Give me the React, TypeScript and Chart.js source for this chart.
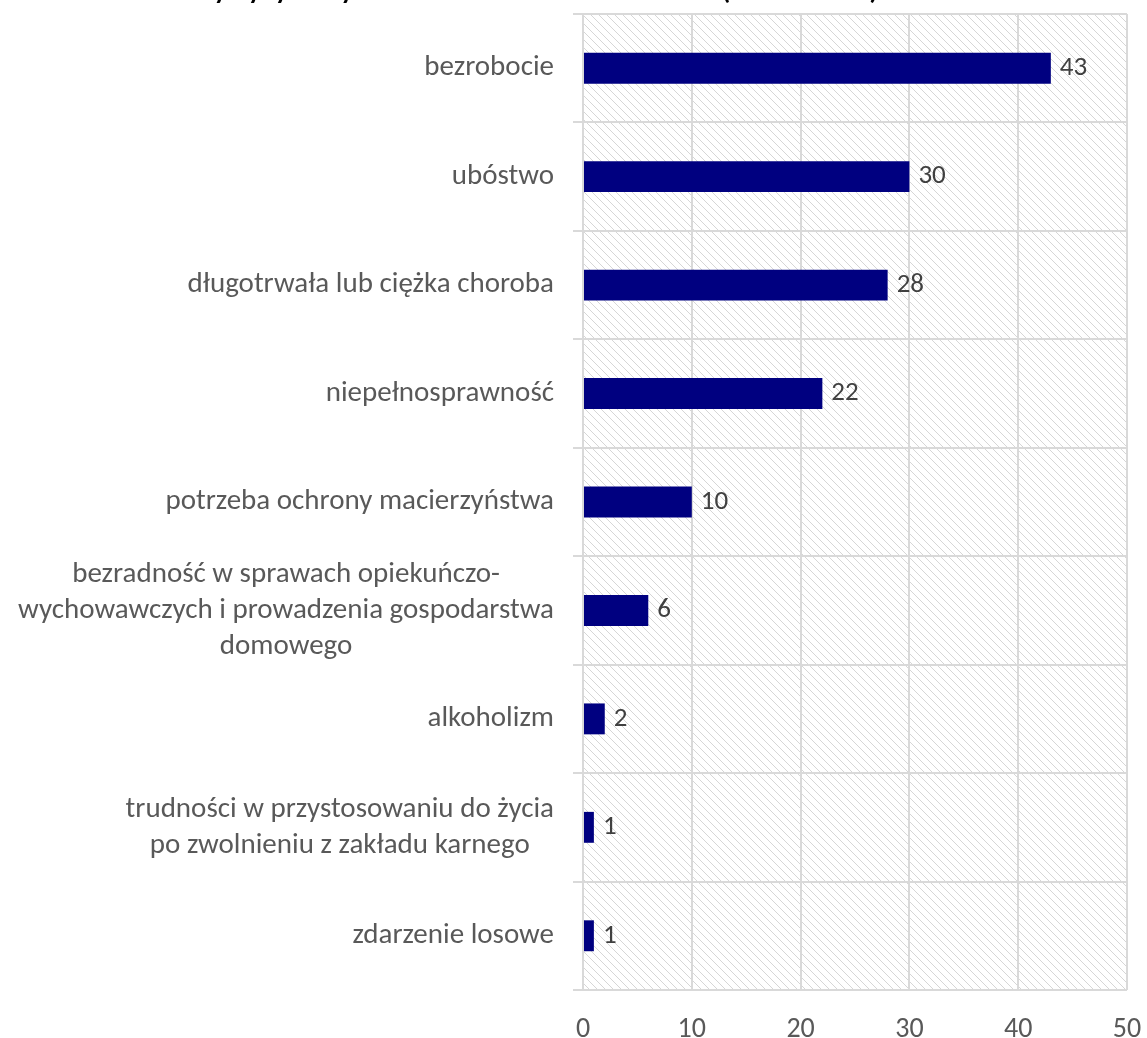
import React, { useEffect, useRef } from "react";
import { Chart, registerables } from "chart.js";

Chart.register(...registerables);

const TITLE = "Przyczyny korzystania ze świadczeń w roku 2020 (liczba rodzin)";

const categories: string[][] = [
  ["bezrobocie"],
  ["ubóstwo"],
  ["długotrwała lub ciężka choroba"],
  ["niepełnosprawność"],
  ["potrzeba ochrony macierzyństwa"],
  ["bezradność w sprawach opiekuńczo-", "wychowawczych i prowadzenia gospodarstwa", "domowego"],
  ["alkoholizm"],
  ["trudności w przystosowaniu do życia", "po zwolnieniu z zakładu karnego"],
  ["zdarzenie losowe"],
];

const values: number[] = [43, 30, 28, 22, 10, 6, 2, 1, 1];

const xMin = 0;
const xMax = 50;
const xStep = 10;

const FONT = "Carlito, Calibri, Lato, sans-serif";
const BAR_COLOR = "#000080";
const GRID_COLOR = "#d9d9d9";
const LABEL_COLOR = "#595959";
const VALUE_COLOR = "#404040";

function makeHatch(ctx: CanvasRenderingContext2D): CanvasPattern | string {
  const c = document.createElement("canvas");
  c.width = 8;
  c.height = 8;
  const g = c.getContext("2d");
  if (!g) return "#ffffff";
  g.fillStyle = "#ffffff";
  g.fillRect(0, 0, 8, 8);
  g.strokeStyle = "#d6d6d6";
  g.lineWidth = 1;
  g.beginPath();
  g.moveTo(-1, -1);
  g.lineTo(9, 9);
  g.moveTo(-9, -1);
  g.lineTo(1, 9);
  g.moveTo(7, -1);
  g.lineTo(17, 9);
  g.stroke();
  return ctx.createPattern(c, "repeat") || "#ffffff";
}

const hatchPlugin = {
  id: "hatchBg",
  beforeDraw(chart: any) {
    const { ctx, chartArea } = chart;
    if (!chartArea) return;
    ctx.save();
    ctx.fillStyle = "#ffffff";
    ctx.fillRect(0, 0, chart.width, chart.height);
    ctx.fillStyle = makeHatch(ctx);
    ctx.fillRect(chartArea.left, chartArea.top, chartArea.right - chartArea.left, chartArea.bottom - chartArea.top);
    ctx.restore();
  },
};

const titlePlugin = {
  id: "clippedTitle",
  afterDraw(chart: any) {
    const { ctx } = chart;
    ctx.save();
    ctx.font = `bold 27px ${FONT}`;
    ctx.fillStyle = "#000000";
    ctx.textAlign = "right";
    ctx.textBaseline = "alphabetic";
    ctx.fillText(TITLE, 878, -1);
    ctx.restore();
  },
};

const categoryLabelPlugin = {
  id: "categoryLabels",
  afterDraw(chart: any) {
    const { ctx } = chart;
    const yScale = chart.scales.y;
    const right = 554;
    const lineH = 36;
    ctx.save();
    ctx.font = `29px ${FONT}`;
    ctx.fillStyle = LABEL_COLOR;
    ctx.textAlign = "center";
    ctx.textBaseline = "middle";
    categories.forEach((lines, i) => {
      const yc = yScale.getPixelForValue(i);
      const maxW = Math.max(...lines.map((l) => ctx.measureText(l).width));
      const cx = right - maxW / 2;
      const y0 = yc - ((lines.length - 1) * lineH) / 2;
      lines.forEach((l, j) => ctx.fillText(l, cx, y0 + j * lineH));
    });
    ctx.restore();
  },
};

const valueLabelPlugin = {
  id: "valueLabels",
  afterDatasetsDraw(chart: any) {
    const { ctx } = chart;
    const meta = chart.getDatasetMeta(0);
    ctx.save();
    ctx.font = `27px ${FONT}`;
    ctx.fillStyle = VALUE_COLOR;
    ctx.textAlign = "left";
    ctx.textBaseline = "middle";
    meta.data.forEach((el: any, i: number) => {
      ctx.fillText(String(values[i]), el.x + 9, el.y);
    });
    ctx.restore();
  },
};

export default function App() {
  const ref = useRef<HTMLCanvasElement | null>(null);

  useEffect(() => {
    document.body.style.margin = "0";
    document.body.style.overflow = "hidden";
    if (!ref.current) return;
    const chart = new Chart(ref.current, {
      type: "bar",
      data: {
        labels: categories.map((c) => c.join(" ")),
        datasets: [
          {
            data: values,
            backgroundColor: BAR_COLOR,
            borderWidth: 0,
            categoryPercentage: 1,
            barPercentage: 0.285,
          },
        ],
      },
      options: {
        indexAxis: "y",
        animation: false,
        responsive: false,
        devicePixelRatio: 1,
        layout: { padding: { top: 14, right: 20, left: 0, bottom: 0 } },
        plugins: {
          legend: { display: false },
          tooltip: { enabled: false },
          title: { display: false },
        },
        scales: {
          x: {
            min: xMin,
            max: xMax,
            position: "bottom",
            afterFit: (scale: any) => {
              scale.height = 48;
              scale.paddingLeft = 0;
              scale.paddingRight = 0;
            },
            ticks: {
              stepSize: xStep,
              color: LABEL_COLOR,
              font: { family: FONT, size: 28 },
              padding: 23,
            },
            grid: { color: GRID_COLOR, lineWidth: 2, drawTicks: false },
            border: { display: false },
          },
          y: {
            type: "category",
            offset: true,
            afterFit: (scale: any) => {
              scale.width = 583;
              scale.paddingTop = 0;
              scale.paddingBottom = 0;
            },
            ticks: { display: false },
            grid: {
              color: GRID_COLOR,
              lineWidth: 2,
              offset: true,
              drawTicks: true,
              tickLength: 10,
            },
            border: { display: false },
          },
        },
      },
      plugins: [hatchPlugin, valueLabelPlugin, categoryLabelPlugin, titlePlugin],
    } as any);
    return () => chart.destroy();
  }, []);

  return (
    <canvas
      ref={ref}
      width={1147}
      height={1038}
      style={{ display: "block", width: "1147px", height: "1038px" }}
    />
  );
}
